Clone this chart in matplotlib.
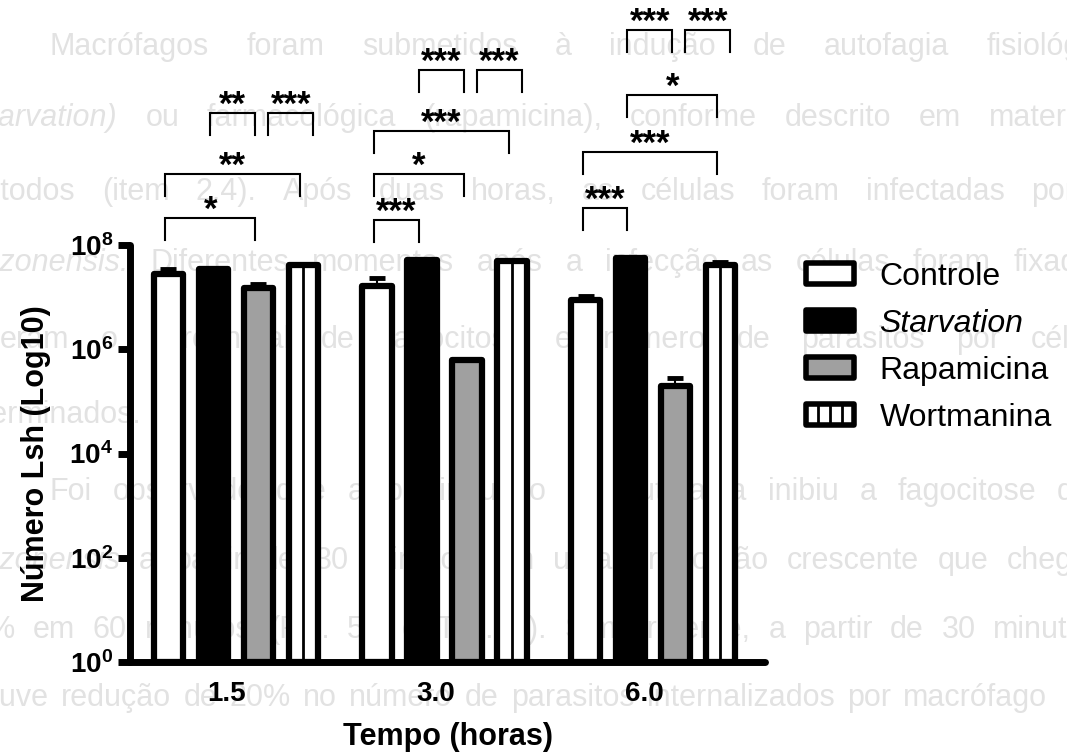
import numpy as np
import matplotlib
matplotlib.use("Agg")
import matplotlib.pyplot as plt
import matplotlib.transforms as mtransforms
from matplotlib.patches import Patch, Rectangle
from matplotlib.lines import Line2D
from matplotlib.legend_handler import HandlerBase
from matplotlib.ticker import NullLocator

plt.rcParams['font.family'] = ['Liberation Sans', 'DejaVu Sans']
plt.rcParams['mathtext.fontset'] = 'custom'
plt.rcParams['mathtext.rm'] = 'Liberation Sans'
plt.rcParams['mathtext.bf'] = 'Liberation Sans:bold'

# Data (number of Lsh, log scale)
times = ['1.5', '3.0', '6.0']
labels = ['Controle', 'Starvation', 'Rapamicina', 'Wortmanina']
controle = [2.8e7, 1.63e7, 8.7e6]
controle_err = [6e6, 6.5e6, 2e6]
starvation = [3.5e7, 5.2e7, 5.6e7]
starvation_err = [1e6, 2e6, 3e6]
rapamicina = [1.48e7, 6.2e5, 2.0e5]
rapamicina_err = [3.4e6, 3e4, 7.5e4]
wortmanina = [4.1e7, 4.9e7, 4.1e7]
wortmanina_err = [1.5e6, 2e6, 7e6]

# significance: (time index, bar i, bar j, height in axes fraction, label, nudge)
sig = [
    (0, 0, 2, 1.065, '*', 0), (0, 0, 3, 1.170, '**', 0),
    (0, 1, 2, 1.317, '**', 0), (0, 2, 3, 1.317, '***', 1),
    (1, 0, 1, 1.060, '***', 0), (1, 0, 2, 1.170, '*', 0),
    (1, 0, 3, 1.273, '***', 0), (1, 1, 2, 1.420, '***', 0),
    (1, 2, 3, 1.420, '***', 1),
    (2, 0, 1, 1.089, '***', 0), (2, 0, 3, 1.223, '***', 0),
    (2, 1, 3, 1.360, '*', 0), (2, 1, 2, 1.516, '***', 0),
    (2, 2, 3, 1.516, '***', 1),
]

# faint page text behind the figure: (y px, x start px, x end px, text)
page_lines = [
    (47, 50, 1120, 'Macrófagos foram submetidos à indução de autofagia fisiológica'),
    (118, -35, 1097, '(starvation) ou farmacológica (rapamicina), conforme descrito em material'),
    (192, -41, 1075, 'métodos (item 2.4). Após duas horas, as células foram infectadas por'),
    (263, -60, 1110, 'amazonensis. Diferentes momentos após a infecção as células foram fixadas'),
    (340, 0, 1110, 'eram o percentual de fagocitose e número de parasitos por célula'),
    (415, -51, None, 'determinados.'),
    (492, 50, 1091, 'Foi observado que a pré-indução da autofagia inibiu a fagocitose de'),
    (561, -60, 1107, 'amazonensis a partir de 30 minutos em uma proporção crescente que chegou'),
    (630, -12, 1100, '% em 60 minutos (Fig. 5A e Tab. 5). Similarmente, a partir de 30 minutos'),
    (698, -34, 1047, 'houve redução de 20% no número de parasitos internalizados por macrófago'),
]
italic_words = {'(starvation)', 'amazonensis.', 'amazonensis'}

W, H = 1067, 752
fig = plt.figure(figsize=(W / 100, H / 100), dpi=100)
ax = fig.add_axes([130 / W, 1 - 662 / H, 635 / W, 417 / H])
ax.patch.set_visible(False)

# background text, justified
renderer = fig.canvas.get_renderer()
for ypx, x0, x1, line in page_lines:
    words = line.split()
    arts = [fig.text(0, 1 - ypx / H, w, fontsize=22, color='#e2e2e2',
                     style='italic' if w in italic_words else 'normal',
                     va='center', ha='left', zorder=-5) for w in words]
    widths = [a.get_window_extent(renderer).width for a in arts]
    gap = 0 if x1 is None or len(words) < 2 else (x1 - x0 - sum(widths)) / (len(words) - 1)
    x = x0
    for a, wd in zip(arts, widths):
        a.set_x(x / W)
        x += wd + gap

series = [controle, starvation, rapamicina, wortmanina]
errs = [controle_err, starvation_err, rapamicina_err, wortmanina_err]
faces = ['white', 'black', '#a0a0a0', 'white']
pitch = 0.2156
width = 0.141
base = np.arange(len(times))
centers = []
for k, (vals, e, fc) in enumerate(zip(series, errs, faces)):
    xk = base + (k - 1.5) * pitch
    centers.append(xk)
    vals = np.array(vals)
    ax.bar(xk, vals - 1, width, bottom=1, facecolor=fc, edgecolor='black',
           linewidth=4.5, joinstyle='round', zorder=2)
    ax.errorbar(xk, vals, yerr=[np.zeros(len(vals)), e], fmt='none', ecolor='black',
                elinewidth=1.5, capsize=6, capthick=3.5, zorder=3)
ax.vlines(centers[3], 1, wortmanina, color='black', lw=2.0, zorder=3)

ax.set_yscale('log')
ax.set_ylim(1, 1e8)
ax.set_xlim(-0.507, 2.537)
ax.set_yticks([1, 1e2, 1e4, 1e6, 1e8])
ax.set_yticklabels([r'$\mathbf{10^{%d}}$' % p for p in [0, 2, 4, 6, 8]], fontsize=20)
ax.yaxis.set_minor_locator(NullLocator())
ax.set_xticks(base)
ax.set_xticklabels(times, fontsize=20, fontweight='bold')
ax.tick_params(axis='x', length=0, pad=14)
ax.tick_params(axis='y', length=9, width=5, pad=3, direction='out')
shift = mtransforms.ScaledTranslation(-9 / 100, 0, fig.dpi_scale_trans)
for t in ax.get_xticklabels():
    t.set_transform(t.get_transform() + shift)
for s in ['top', 'right']:
    ax.spines[s].set_visible(False)
for s in ['left', 'bottom']:
    ax.spines[s].set_linewidth(5)
    ax.spines[s].set_capstyle('round')

ax.set_xlabel('Tempo (horas)', fontsize=22, fontweight='bold')
ax.xaxis.set_label_coords(0.5, -0.145)
ax.set_ylabel('Número Lsh (Log10)', fontsize=22, fontweight='bold')
ax.yaxis.set_label_coords(-0.125, 0.5)

# significance brackets
tr = ax.get_xaxis_transform()
px = 1 / 208.6
for g, i, j, h, lab, nudge in sig:
    xl = centers[i][g] - 3 * px + nudge * 13 * px
    xr = centers[j][g] - 3 * px + nudge * 13 * px
    leg = 0.053
    ax.plot([xl, xl, xr, xr], [h - leg, h, h, h - leg], color='black', lw=1.5,
            transform=tr, clip_on=False, solid_joinstyle='miter')
    ax.text((xl + xr) / 2, h - 0.004, lab, fontsize=25, fontweight='bold',
            ha='center', va='baseline', transform=tr, clip_on=False)


class BoxHandler(HandlerBase):
    def __init__(self, face, nlines=0):
        super().__init__()
        self.face = face
        self.nlines = nlines

    def create_artists(self, legend, orig_handle, xdescent, ydescent, width, height, fontsize, trans):
        r = Rectangle((-xdescent, -ydescent), width, height, facecolor=self.face,
                      edgecolor='black', lw=4, joinstyle='round', transform=trans)
        arts = [r]
        for n in range(1, self.nlines + 1):
            x = -xdescent + width * n / (self.nlines + 1)
            arts.append(Line2D([x, x], [-ydescent, -ydescent + height], color='black',
                               lw=2, transform=trans))
        return arts


handles = [Patch(label=l) for l in labels]
hmap = {handles[0]: BoxHandler('white'), handles[1]: BoxHandler('black'),
        handles[2]: BoxHandler('#a0a0a0'), handles[3]: BoxHandler('white', 3)}
leg = fig.legend(handles=handles, labels=labels, handler_map=hmap, loc='upper left',
                 bbox_to_anchor=(806 / W, 1 - 262 / H), frameon=False, fontsize=23,
                 handlelength=1.5, handleheight=0.65, labelspacing=0.53,
                 handletextpad=0.8, borderpad=0, borderaxespad=0)
leg.get_texts()[1].set_style('italic')

fig.savefig('out.png', dpi=100)
